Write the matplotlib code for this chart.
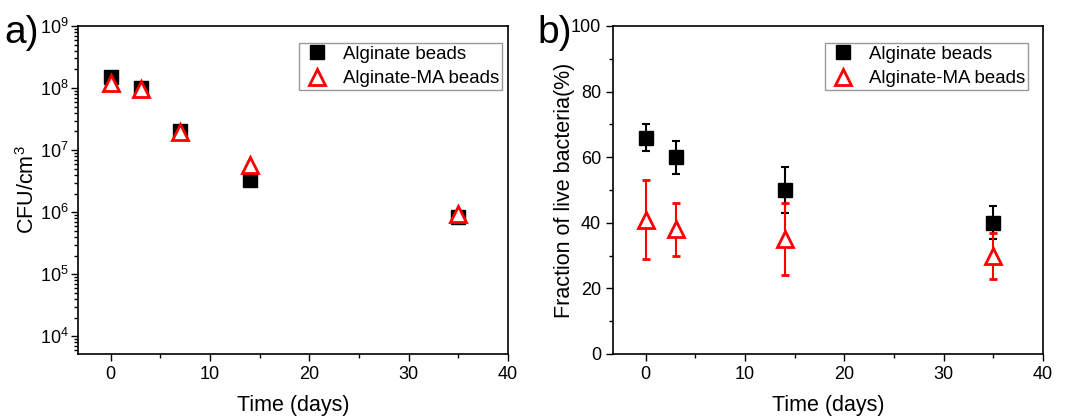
import numpy as np
import matplotlib
matplotlib.use('Agg')
import matplotlib.pyplot as plt
from matplotlib.ticker import LogLocator, MultipleLocator, NullFormatter

plt.rcParams['font.family'] = ['Liberation Sans', 'DejaVu Sans']
plt.rcParams['mathtext.fontset'] = 'custom'
plt.rcParams['mathtext.rm'] = 'Liberation Sans'
plt.rcParams['mathtext.it'] = 'Liberation Sans'

# Dados
days = [0, 3, 7, 14, 35]
cfu_alg = [1.5e8, 1.0e8, 2.0e7, 3.3e6, 8.3e5]
cfu_ma = [1.2e8, 9.5e7, 1.95e7, 5.8e6, 9.5e5]

days_b = [0, 3, 14, 35]
live_alg = [66, 60, 50, 40]
live_alg_err = [4, 5, 7, 5]
live_ma = [41, 38, 35, 30]
live_ma_err = [12, 8, 11, 7]

fig = plt.figure(figsize=(10.7, 4.16), dpi=100)
ax1 = fig.add_axes([78/1070, 1 - 354/416, 430/1070, 328/416])
ax2 = fig.add_axes([613/1070, 1 - 354/416, 430/1070, 328/416])

sq = dict(marker='s', ls='none', ms=9.5, color='black')
tri = dict(marker='^', ls='none', ms=11, mfc='white', mec='red', mew=2)

# a) CFU
ax1.plot(days, cfu_alg, label='Alginate beads', **sq)
ax1.plot(days, cfu_ma, label='Alginate-MA beads', **tri)
ax1.set_yscale('log')
ax1.set_ylim(5.2e3, 1e9)
ax1.set_xlim(-3.3, 40)
ax1.yaxis.set_major_locator(LogLocator(base=10, numticks=10))
ax1.yaxis.set_minor_locator(LogLocator(base=10, subs=np.arange(2, 10), numticks=10))
ax1.yaxis.set_minor_formatter(NullFormatter())
ax1.set_ylabel('CFU/cm$^3$', fontsize=15.5, labelpad=1)
h1 = ax1.get_lines()

# b) fração de bactérias vivas
c1 = ax2.errorbar(days_b, live_alg, yerr=live_alg_err, capsize=3, elinewidth=1.5,
                  capthick=1.5, ecolor='black', label='Alginate beads', **sq)
c2 = ax2.errorbar(days_b, live_ma, yerr=live_ma_err, capsize=3, elinewidth=1.5,
                  capthick=1.5, ecolor='red', label='Alginate-MA beads', **tri)
ax2.set_ylim(0, 100)
ax2.set_xlim(-3.3, 40)
ax2.yaxis.set_major_locator(MultipleLocator(20))
ax2.yaxis.set_minor_locator(MultipleLocator(10))
ax2.set_ylabel('Fraction of live bacteria(%)', fontsize=15.5, labelpad=-3)
h2 = [c1[0], c2[0]]

for ax, tag, hs, tx, lx in [(ax1, 'a)', h1, -0.092, 0.986), (ax2, 'b)', h2, -0.095, 0.965)]:
    ax.xaxis.set_major_locator(MultipleLocator(10))
    ax.xaxis.set_minor_locator(MultipleLocator(5))
    ax.tick_params(which='major', direction='out', length=5, width=1, labelsize=13)
    ax.tick_params(which='minor', direction='out', length=3, width=1)
    for s in ax.spines.values():
        s.set_linewidth(1.2)
    ax.set_xlabel('Time (days)', fontsize=15.5, labelpad=9)
    leg = ax.legend(handles=hs, labels=['Alginate beads', 'Alginate-MA beads'],
                    loc='upper right', fontsize=13.4, frameon=True, fancybox=False,
                    edgecolor='0.5', bbox_to_anchor=(lx, 0.948), handletextpad=0.6,
                    handlelength=1.6, borderpad=0.15, labelspacing=0.4, borderaxespad=0)
    leg.get_frame().set_linewidth(1)
    ax.text(tx, 0.979, tag, transform=ax.transAxes, fontsize=28, va='center', ha='right')

ax1.tick_params(axis='y', which='major', pad=1.5)

plt.savefig('out.png', dpi=100)
